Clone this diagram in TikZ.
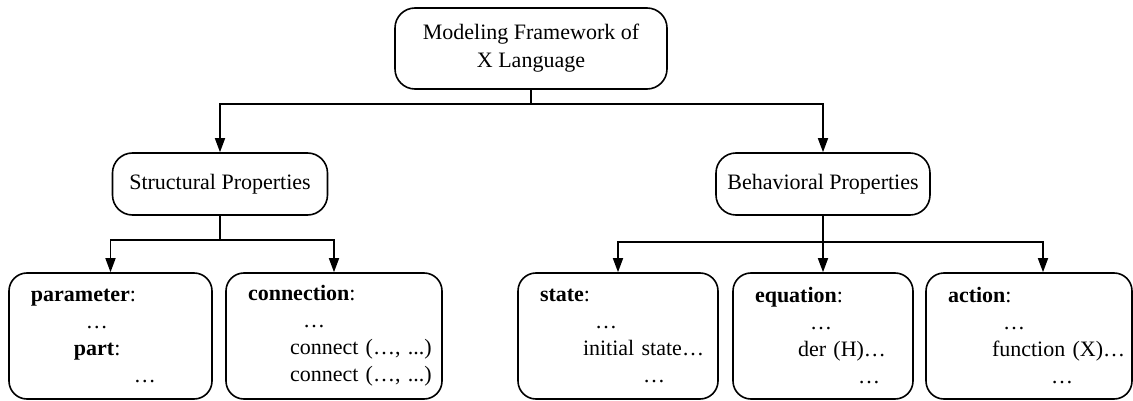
\documentclass[tikz,border=0pt]{standalone}
\usepackage{fontspec}
\setmainfont{Liberation Serif}
\usetikzlibrary{arrows.meta}

\begin{document}
\begin{tikzpicture}[x=1pt,y=-1pt,line width=1.6pt,
    box/.style={draw,rounded corners=20pt,align=center,font=\fontsize{22}{28}\selectfont},
    botbox/.style={draw,rounded corners=18pt,inner xsep=0pt,text width=#1,minimum height=126pt,
        align=left,font=\fontsize{22}{27}\selectfont},
    arr/.style={-{Triangle[length=14pt,width=10pt]}}]
            \useasboundingbox (0,0) rectangle (1133,401);
            % top level
            \node (top) at (531,48.5) [box,minimum width=272pt,minimum height=81pt] {Modeling Framework of\\X Language};
            \node (struct) at (220,184) [box,minimum width=215pt,minimum height=62pt] {Structural Properties};
            \node (behav) at (823,184) [box,minimum width=214pt,minimum height=62pt] {Behavioral Properties};
            % leaves
            \node (param) at (110.5,336) [botbox=203pt] {\hspace*{22pt}\textbf{parameter}:\\\hspace*{77pt}…\\\hspace*{65pt}\textbf{part}:\\\hspace*{125pt}…};
            \node (conn) at (334,336) [botbox=216pt] {\hspace*{22pt}\textbf{connection}:\\\hspace*{77pt}…\\\hspace*{64pt}connect (…, ...)\\\hspace*{64pt}connect (…, ...)};
            \node (state) at (618,336) [botbox=200pt] {\hspace*{22pt}\textbf{state}:\\\hspace*{77pt}…\\\hspace*{65pt}initial state…\\\hspace*{125pt}…};
            \node (equat) at (823,336) [botbox=180pt] {\hspace*{22pt}\textbf{equation}:\\\hspace*{77pt}…\\\hspace*{65pt}der (H)…\\\hspace*{125pt}…};
            \node (action) at (1029,336) [botbox=206pt] {\hspace*{22pt}\textbf{action}:\\\hspace*{77pt}…\\\hspace*{66pt}function (X)…\\\hspace*{125pt}…};
            % connectors
            \coordinate (bus) at (531,104);
            \coordinate (sbus) at (220,240);
            \coordinate (bbus) at (823,242);
            \draw[arr] (top.south) -- (bus) -| (struct.north);
            \draw[arr] (bus) -| (behav.north);
            \draw[arr] (struct.south) -- (sbus) -| (param.north);
            \draw[arr] (sbus) -| (conn.north);
            \draw[arr] (behav.south) -- (bbus) -| (state.north);
            \draw[arr] (bbus) -- (equat.north);
            \draw[arr] (bbus) -| ([xshift=14pt]action.north);
        \end{tikzpicture}
\end{document}
